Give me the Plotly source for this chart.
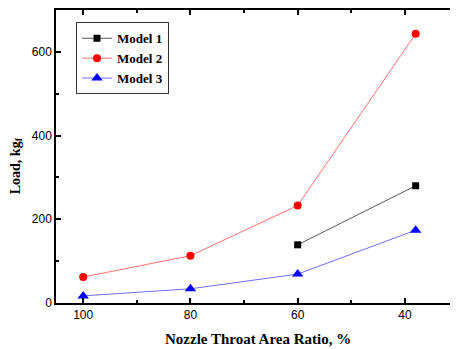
import plotly.graph_objects as go

x_m1 = [60, 38]
y_m1 = [139, 280]
x_m2 = [100, 80, 60, 38]
y_m2 = [62, 113, 233, 643]
x_m3 = [100, 80, 60, 38]
y_m3 = [17, 34, 69, 174]
x_ticks = [100, 80, 60, 40]
y_ticks = [0, 200, 400, 600]

fig = go.Figure()
fig.add_trace(go.Scatter(x=x_m1, y=y_m1, name="<b>Model 1</b>", mode="lines+markers",
                         line=dict(color="#555555", width=1),
                         marker=dict(symbol="square", size=7, color="black")))
fig.add_trace(go.Scatter(x=x_m2, y=y_m2, name="<b>Model 2</b>", mode="lines+markers",
                         line=dict(color="#ff7070", width=1),
                         marker=dict(symbol="circle", size=8, color="#ff0000")))
fig.add_trace(go.Scatter(x=x_m3, y=y_m3, name="<b>Model 3</b>", mode="lines+markers",
                         line=dict(color="#6f6fff", width=1),
                         marker=dict(symbol="triangle-up", size=10, color="#0000ff")))

axis_common = dict(showline=True, linecolor="black", linewidth=1.5, mirror="allticks",
                   ticks="inside", ticklen=5, tickcolor="black", tickwidth=1.5,
                   showgrid=False, zeroline=False,
                   tickfont=dict(family="Liberation Sans, Arial", size=12, color="black"))

fig.update_layout(
    width=450, height=341,
    margin=dict(l=48, r=0, t=0, b=46),
    paper_bgcolor="white", plot_bgcolor="white",
    showlegend=True,
    legend=dict(x=0.05, y=0.958, xanchor="left", yanchor="top",
                bgcolor="white", bordercolor="#333333", borderwidth=1,
                font=dict(family="Liberation Serif, Times New Roman", size=13, color="black"),
                itemwidth=30, tracegroupgap=0),
    xaxis=dict(range=[105.07, 30.48], tickvals=x_ticks, ticktext=[str(v) for v in x_ticks],
               minor=dict(tickvals=[90, 70, 50], ticks="inside", ticklen=3, tickcolor="black", tickwidth=1.5),
               **axis_common),
    yaxis=dict(range=[0, 700], tickvals=y_ticks, ticktext=[str(v) for v in y_ticks],
               minor=dict(tickvals=[100, 300, 500], ticks="inside", ticklen=3, tickcolor="black", tickwidth=1.5),
               **axis_common),
)

fig.add_annotation(text="<b>Nozzle Throat Area Ratio, %</b>", xref="paper", yref="paper",
                   x=0.505, y=-0.122, xanchor="center", yanchor="middle", showarrow=False,
                   font=dict(family="Liberation Serif, Times New Roman", size=15, color="black"))
fig.add_annotation(text="<b>Load, kg<sub>f</sub></b>", xref="paper", yref="paper",
                   x=-0.099, y=0.468, xanchor="center", yanchor="middle", showarrow=False, textangle=-90,
                   font=dict(family="Liberation Serif, Times New Roman", size=14, color="black"))

fig.write_html("out.html")
